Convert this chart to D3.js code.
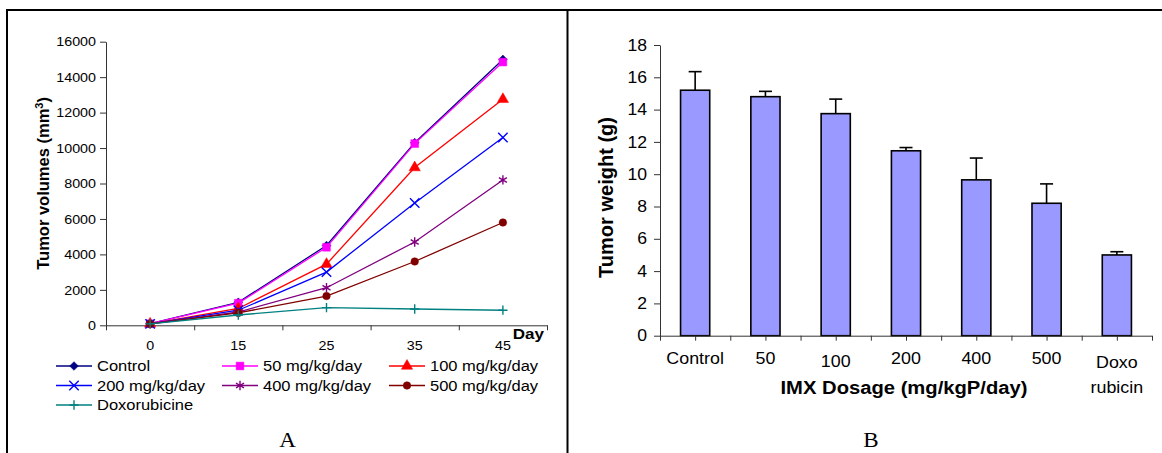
<!DOCTYPE html>
<html><head><meta charset="utf-8">
<script src="https://cdn.jsdelivr.net/npm/d3@7"></script>
<style>
body{margin:0;background:#fff;}
text{font-family:Arial,"Liberation Sans",sans-serif;fill:#000;}
text.serif{font-family:"Liberation Serif","Times New Roman",serif;}
</style></head>
<body><svg id="c" width="1162" height="453"></svg>
<script>
// ---------- Data: panel A (tumor volumes) ----------
const days = ["0","15","25","35","45"];
const seriesNames = ["Control","50 mg/kg/day","100 mg/kg/day","200 mg/kg/day","400 mg/kg/day","500 mg/kg/day","Doxorubicine"];
const control      = [100, 1300, 4500, 10300, 15000];
const dose50       = [90, 1250, 4400, 10250, 14850];
const dose100      = [80, 950, 3450, 8900, 12750];
const dose200      = [80, 850, 3000, 6900, 10600];
const dose400      = [80, 750, 2120, 4700, 8200];
const dose500      = [80, 700, 1650, 3600, 5800];
const doxorubicine = [80, 580, 1000, 920, 850];
const volumeTicks  = [0, 2000, 4000, 6000, 8000, 10000, 12000, 14000, 16000];

// ---------- Data: panel B (tumor weight) ----------
const groups      = ["Control","50","100","200","400","500","Doxo rubicin"];
const weights     = [15.2, 14.8, 13.75, 11.45, 9.65, 8.2, 5.0];
const weightErr   = [1.15, 0.33, 0.9, 0.2, 1.35, 1.2, 0.2];
const weightTicks = [0, 2, 4, 6, 8, 10, 12, 14, 16, 18];

const svg = d3.select("#c");
const SX = 1.1;
function stretch(sel, sx){
  sel.each(function(){
    const t = d3.select(this);
    const x = +t.attr("x") || 0, y = +t.attr("y") || 0;
    t.attr("transform", `translate(${x},${y}) scale(${sx},1) translate(${-x},${-y})`);
  });
}

// frame
svg.append("path").attr("d","M7,453V10H1162M567.5,10V453")
  .attr("fill","none").attr("stroke","#000").attr("stroke-width",2);

// ================= Panel A =================
const xA = d3.scaleBand().domain(days).range([106, 547]);
const yA = d3.scaleLinear().domain([0, 16000]).range([325.3, 41.7]);
const axisCol = "#333";

const gyA = svg.append("g").attr("transform","translate(106,0)")
  .call(d3.axisLeft(yA).tickValues(volumeTicks).tickFormat(d3.format("d"))
    .tickSize(6).tickSizeOuter(0).tickPadding(4));
gyA.selectAll("path,line").attr("stroke", axisCol);
gyA.selectAll("text").attr("font-size", 13).call(stretch, SX);

const gxA = svg.append("g").attr("transform", `translate(0,${yA(0)})`)
  .call(d3.axisBottom(xA).tickSize(0).tickSizeOuter(0).tickPadding(15.5));
gxA.selectAll("path").attr("stroke", axisCol);
gxA.selectAll("text").attr("font-size", 13).call(stretch, SX);
svg.append("g").selectAll("line").data(d3.range(days.length + 1)).join("line")
  .attr("x1", i => xA.range()[0] + i * xA.step() + 0.5)
  .attr("x2", i => xA.range()[0] + i * xA.step() + 0.5)
  .attr("y1", yA(0)).attr("y2", yA(0) + 5).attr("stroke", axisCol);

svg.append("text").attr("x", 512.7).attr("y", 339).attr("font-size", 15.5)
  .attr("font-weight", "bold").text("Day").call(stretch, SX);

// y title A
const tA = svg.append("text").attr("transform", "translate(49,183.4) rotate(-90)")
  .attr("text-anchor", "middle").attr("font-size", 16.5).attr("font-weight", "bold");
tA.append("tspan").text("Tumor volumes (mm");
tA.append("tspan").attr("dy", -6).attr("font-size", 11).text("3");
tA.append("tspan").attr("dy", 6).text(")");

const seriesA = [
  {name: seriesNames[0], values: control,      color: "#000080", sym: "diamond"},
  {name: seriesNames[1], values: dose50,       color: "#FF00FF", sym: "square"},
  {name: seriesNames[2], values: dose100,      color: "#FF0000", sym: "triangle"},
  {name: seriesNames[3], values: dose200,      color: "#0000FF", sym: "times"},
  {name: seriesNames[4], values: dose400,      color: "#800080", sym: "asterisk"},
  {name: seriesNames[5], values: dose500,      color: "#800000", sym: "circle"},
  {name: seriesNames[6], values: doxorubicine, color: "#008080", sym: "plus"}
];
const symDefs = {
  diamond:  {type: d3.symbolSquare,   size: 38, fill: true,  rot: 45},
  square:   {type: d3.symbolSquare,   size: 60, fill: true,  rot: 0},
  triangle: {type: d3.symbolTriangle, size: 55, fill: true,  rot: 0},
  times:    {type: d3.symbolTimes,    size: 60, fill: false, rot: 0},
  asterisk: {type: d3.symbolAsterisk, size: 60, fill: false, rot: 0},
  circle:   {type: d3.symbolCircle,   size: 45, fill: true,  rot: 0},
  plus:     {type: d3.symbolPlus,     size: 30, fill: false, rot: 0}
};
function drawMarker(g, s, x, y){
  const def = symDefs[s.sym];
  g.append("path").attr("d", d3.symbol().type(def.type).size(def.size)())
    .attr("transform", `translate(${x},${y}) rotate(${def.rot})`)
    .attr("fill", def.fill ? s.color : "none")
    .attr("stroke", s.color).attr("stroke-width", def.fill ? 0.5 : 1.4);
}
const cx = d => xA(d) + xA.bandwidth() / 2;
const line = d3.line().x((v, i) => cx(days[i])).y(v => yA(v));
const plotA = svg.append("g");
seriesA.forEach(s => {
  const g = plotA.append("g");
  g.append("path").attr("d", line(s.values)).attr("fill", "none")
    .attr("stroke", s.color).attr("stroke-width", 1.3);
  s.values.forEach((v, i) => drawMarker(g, s, cx(days[i]), yA(v)));
});

// legend A
const legCols = [56, 222, 389], legRows = [366, 385.5, 405];
seriesA.forEach((s, i) => {
  const lx = legCols[i % 3], ly = legRows[Math.floor(i / 3)];
  const g = svg.append("g");
  g.append("line").attr("x1", lx).attr("x2", lx + 36).attr("y1", ly).attr("y2", ly)
    .attr("stroke", s.color).attr("stroke-width", 1.5);
  drawMarker(g, s, lx + 18, ly);
  g.append("text").attr("x", lx + 41).attr("y", ly + 5.4).attr("font-size", 15)
    .text(s.name).call(stretch, SX);
});

svg.append("text").attr("class", "serif").attr("x", 287.5).attr("y", 447).attr("text-anchor", "middle")
  .attr("font-size", 22).text("A").call(stretch, 1.05);

// ================= Panel B =================
const xB = d3.scaleBand().domain(groups).range([660, 1152]);
const yB = d3.scaleLinear().domain([0, 18]).range([335.7, 45]);
const bcx = d => xB(d) + xB.bandwidth() / 2;
const barW = xB.bandwidth() * 0.415;

const gyB = svg.append("g").attr("transform", "translate(660,0)")
  .call(d3.axisLeft(yB).tickValues(weightTicks).tickSize(6).tickSizeOuter(0).tickPadding(7));
gyB.selectAll("path,line").attr("stroke", axisCol);
gyB.selectAll("text").attr("font-size", 16).call(stretch, SX);

// bars
svg.append("g").selectAll("rect").data(groups).join("rect")
  .attr("x", d => bcx(d) - barW / 2).attr("width", barW)
  .attr("y", (d, i) => yB(weights[i])).attr("height", (d, i) => yB(0) - yB(weights[i]))
  .attr("fill", "#9999FF").attr("stroke", "#000").attr("stroke-width", 1.6);
// error bars
const eb = svg.append("g").attr("stroke", "#000").attr("stroke-width", 1.6);
groups.forEach((d, i) => {
  const top = yB(weights[i] + weightErr[i]);
  eb.append("line").attr("x1", bcx(d)).attr("x2", bcx(d)).attr("y1", yB(weights[i])).attr("y2", top);
  eb.append("line").attr("x1", bcx(d) - 6.5).attr("x2", bcx(d) + 6.5).attr("y1", top).attr("y2", top);
});

// x axis B
svg.append("line").attr("x1", xB.range()[0]).attr("x2", xB.range()[1])
  .attr("y1", yB(0) + 0.5).attr("y2", yB(0) + 0.5).attr("stroke", axisCol);
const tickXs = [];
d3.range(groups.length + 1).forEach(i => tickXs.push(xB.range()[0] + i * xB.step()));
groups.forEach(d => tickXs.push(bcx(d)));
svg.append("g").selectAll("line").data(tickXs).join("line")
  .attr("x1", d => d + 0.5).attr("x2", d => d + 0.5)
  .attr("y1", yB(0)).attr("y2", yB(0) + 5).attr("stroke", axisCol);

groups.forEach((d, i) => {
  const parts = d.split(" ");
  const base = 364 + (i === 2 ? 3 : 0) + (parts.length > 1 ? 4 : 0);
  parts.forEach((p, k) => {
    svg.append("text").attr("x", bcx(d)).attr("y", base + k * 25.5)
      .attr("text-anchor", "middle").attr("font-size", 17).text(p).call(stretch, 1.05);
  });
});

svg.append("text").attr("x", 904).attr("y", 394.3).attr("text-anchor", "middle")
  .attr("font-size", 18).attr("font-weight", "bold")
  .attr("textLength", 247).attr("lengthAdjust", "spacingAndGlyphs")
  .text("IMX Dosage (mg/kgP/day)");

svg.append("text").attr("transform", "translate(612.6,197.5) rotate(-90)")
  .attr("text-anchor", "middle").attr("font-size", 19.5).attr("font-weight", "bold")
  .attr("textLength", 161).attr("lengthAdjust", "spacingAndGlyphs")
  .text("Tumor weight (g)");

svg.append("text").attr("class", "serif").attr("x", 871).attr("y", 447).attr("text-anchor", "middle")
  .attr("font-size", 22).text("B").call(stretch, 1.05);
</script>
</body></html>
